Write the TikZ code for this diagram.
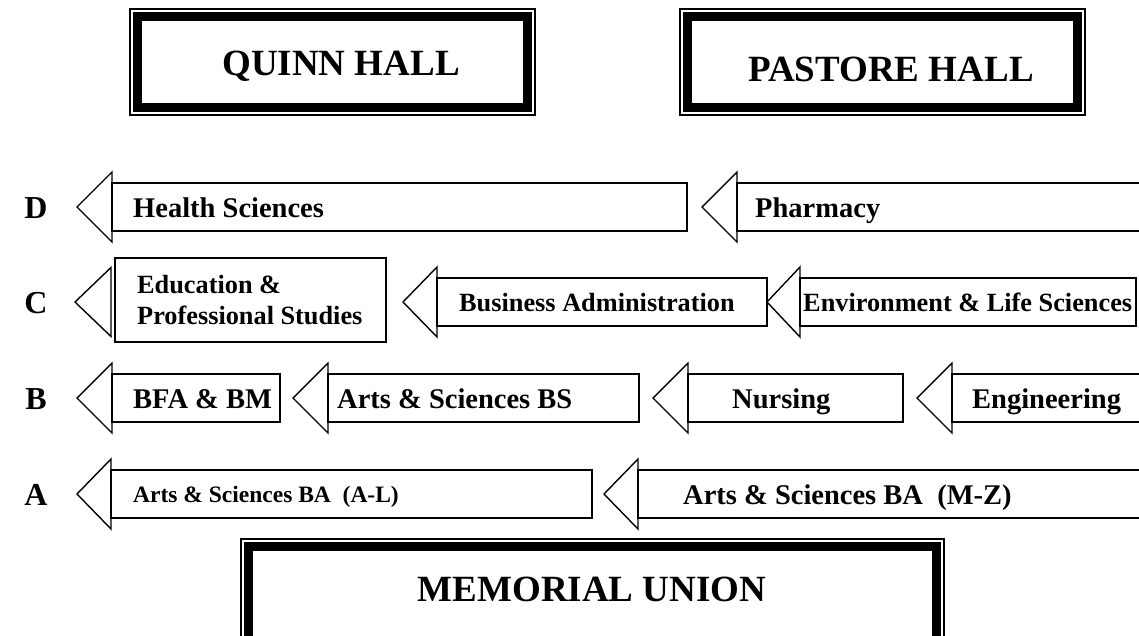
\documentclass[tikz,border=0pt]{standalone}
\usepackage{fontspec}
\setmainfont{Liberation Serif}
\newcommand\hallfont{\bfseries\fontsize{37}{40}\selectfont}
\newcommand\rowfont{\bfseries\fontsize{28.5}{30}\selectfont}
\newcommand\rowcfont{\bfseries\fontsize{26.3}{31}\selectfont}
\newcommand\rowafont{\bfseries\fontsize{23.5}{26}\selectfont}
\newcommand\lblfont{\bfseries\fontsize{32}{34}\selectfont}
% \blockarr{tip}{base}{right}{cy}
\newcommand\blockarr[4]{%
  \draw[arr] (#1,#4) -- (#2,{#4-35}) -- (#2,{#4+35}) -- cycle;
  \draw[arr] (#2,{#4-24}) rectangle (#3,{#4+24});}
% \hallbox{x1}{y1}{x2}{y2}
\newcommand\hallbox[4]{%
  \draw[line width=1.7pt] ({#1+0.9},{#2+0.9}) rectangle ({#3-0.9},{#4-0.9});
  \draw[line width=8.5pt] ({#1+8.5},{#2+8.5}) rectangle ({#3-8.5},{#4-8.5});}
\begin{document}
\begin{tikzpicture}[x=1pt,y=-1pt,line join=miter,
  arr/.style={draw=black,line width=1.4pt,fill=white},
  txt/.style={anchor=base west,inner sep=0pt},
  lbl/.style={anchor=base,inner sep=0pt,font=\lblfont}]
\useasboundingbox (0,0) rectangle (1139,635);
\clip (0,0) rectangle (1139,635);

% halls
\hallbox{129}{8}{536}{116}
\node[anchor=base,inner sep=0pt,font=\hallfont] (quinn) at (341,75) {QUINN HALL};
\hallbox{679}{8}{1086}{116}
\node[anchor=base,inner sep=0pt,font=\hallfont] (pastore) at (891,81) {PASTORE HALL};
\hallbox{240}{538}{945}{700}
\node[anchor=base,inner sep=0pt,font=\hallfont] (union) at (592,601) {MEMORIAL UNION};

% row D
\node[lbl] (lD) at (36,218) {D};
\blockarr{77}{112}{687}{207}
\node[txt,font=\rowfont] (health) at (133,217) {Health Sciences};
\blockarr{702}{737}{1150}{207}
\node[txt,font=\rowfont] (pharm) at (755,217) {Pharmacy};

% row C
\node[lbl] (lC) at (36,313) {C};
\draw[arr] (75,302) -- (111,{302-34.5}) -- (111,{302+34.5}) -- cycle;
\draw[arr] (115,258) rectangle (386,342);
\node[txt,font=\rowcfont,align=left,anchor=west] (edu) at (137,300) {Education \&\\Professional Studies};
\blockarr{403}{437}{767}{302}
\node[txt,font=\rowcfont] (bus) at (459,311) {Business Administration};
\blockarr{767}{800}{1136}{302}
\node[txt,font=\rowcfont] (env) at (803,311) {Environment \& Life Sciences};

% row B
\node[lbl] (lB) at (36,409) {B};
\blockarr{77}{112}{280}{398}
\node[txt,font=\rowfont] (bfa) at (133,408) {BFA \& BM};
\blockarr{293}{328}{639}{398}
\node[txt,font=\rowfont] (asbs) at (337,408) {Arts \& Sciences BS};
\blockarr{653}{688}{903}{398}
\node[txt,font=\rowfont] (nurs) at (732,408) {Nursing};
\blockarr{917}{952}{1150}{398}
\node[txt,font=\rowfont] (eng) at (972,408) {Engineering};

% row A
\node[lbl] (lA) at (36,505) {A};
\blockarr{77}{111}{592}{494}
\node[txt,font=\rowafont] (asal) at (133,502) {Arts \& Sciences BA\ \ (A-L)};
\blockarr{604}{638}{1150}{494}
\node[txt,font=\rowfont] (asmz) at (683,504) {Arts \& Sciences BA\ \ (M-Z)};
\end{tikzpicture}
\end{document}
